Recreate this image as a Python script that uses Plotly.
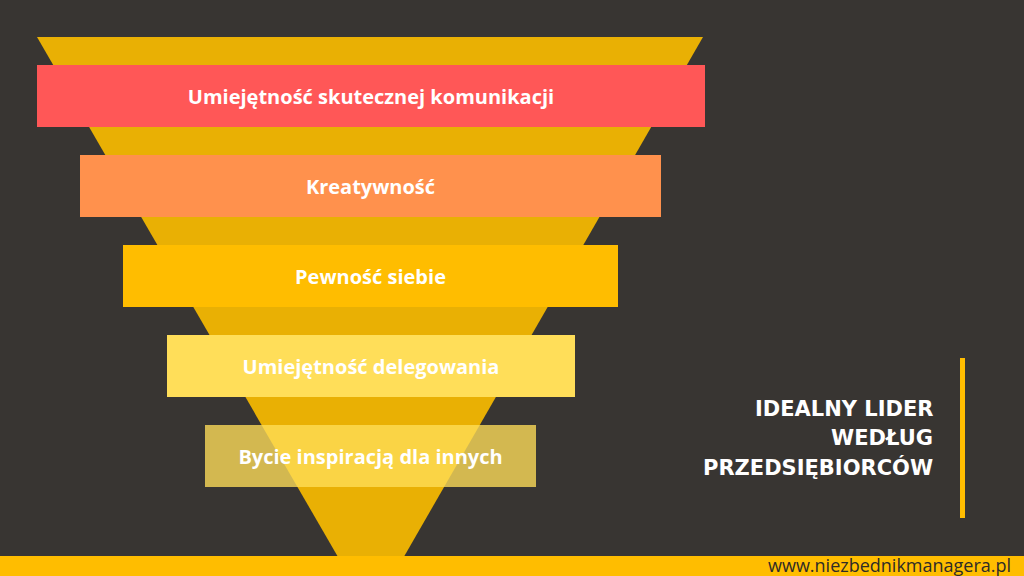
import plotly.graph_objects as go

# funnel levels, top to bottom
categories = [
    "Umiejętność skutecznej komunikacji",
    "Kreatywność",
    "Pewność siebie",
    "Umiejętność delegowania",
    "Bycie inspiracją dla innych",
]
widths = [668, 581, 495, 408, 331]
bar_colors = ["#FF5757", "#FF914D", "#FFBD00", "#FFDE59", "#FFDE59"]
bar_opacity = [1, 1, 1, 1, 0.78]

title_lines = ["IDEALNY LIDER", "WEDŁUG", "PRZEDSIĘBIORCÓW"]
site = "www.niezbednikmanagera.pl"

W, H = 1024, 576
BG = "#383532"
CENTER = 370.5


def py(v):
    # pixel row -> paper y
    return 1 - v / H


fig = go.Figure()
fig.add_trace(go.Bar(
    y=list(range(len(categories))),
    x=widths,
    base=[CENTER - w / 2 for w in widths],
    orientation="h",
    width=0.69,
    marker=dict(color=bar_colors, opacity=bar_opacity, line=dict(width=0)),
    text=categories,
    textposition="inside",
    insidetextanchor="middle",
    textfont=dict(family="Open Sans", size=20, color="white", weight="bold"),
    hoverinfo="skip",
))

shapes = [
    # background triangle
    dict(type="path", xref="x", yref="paper", layer="below",
         path=f"M 37,{py(37)} L 703,{py(37)} L 371,{py(614)} Z",
         fillcolor="#E9B004", line=dict(width=0)),
    # bottom strip
    dict(type="rect", xref="paper", yref="paper", x0=0, x1=1, y0=py(576), y1=py(556),
         fillcolor="#FFBD00", line=dict(width=0), layer="above"),
    # vertical accent line
    dict(type="rect", xref="x", yref="paper", x0=960, x1=965, y0=py(518), y1=py(358),
         fillcolor="#FFBD00", line=dict(width=0)),
]

annotations = []
for i, line in enumerate(title_lines):
    annotations.append(dict(
        x=935, y=py(409 + 29 * i), xref="x", yref="paper",
        xanchor="right", yanchor="middle", showarrow=False, text=line,
        font=dict(family="DejaVu Sans", size=21, color="white", weight="bold"),
    ))
annotations.append(dict(
    x=1012, y=py(565), xref="x", yref="paper", xanchor="right", yanchor="middle",
    showarrow=False, text=site, borderpad=0,
    font=dict(family="Open Sans", size=18, color="#2E2B28"),
))

fig.update_layout(
    width=W, height=H,
    margin=dict(l=0, r=0, t=0, b=0),
    paper_bgcolor=BG, plot_bgcolor=BG,
    showlegend=False,
    bargap=0,
    xaxis=dict(range=[0, W], visible=False, fixedrange=True),
    yaxis=dict(range=[4 + 120 / 90, -96 / 90], visible=False, fixedrange=True),
    shapes=shapes,
    annotations=annotations,
)

fig.write_html(
    "out.html",
    config={"displayModeBar": False},
    post_script="document.body.style.margin='0';document.body.style.overflow='hidden';",
)
